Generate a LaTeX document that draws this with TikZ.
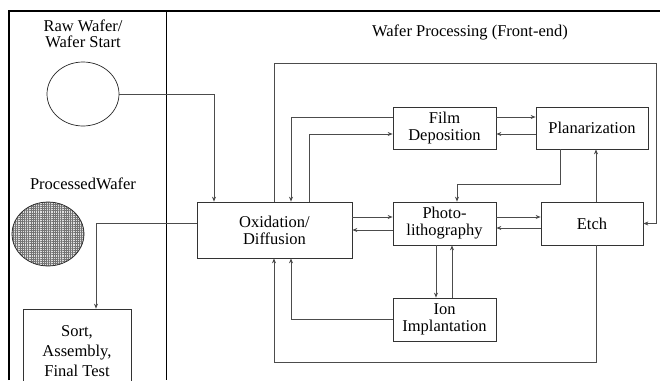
\documentclass[tikz,border=0pt]{standalone}
\usepackage{fontspec}
\setmainfont{Liberation Serif}
\usetikzlibrary{arrows.meta,patterns.meta,shapes.geometric}
\begin{document}
\begin{tikzpicture}[x=1pt,y=-1pt,
  box/.style={draw=black!80, line width=0.7pt, rectangle, inner sep=0pt, align=center, font=\fontsize{16.5}{17}\selectfont},
  conn/.style={draw=black!70, line width=0.8pt},
  arr/.style={conn, -{Stealth[length=5pt,width=4pt]}},
  lbl/.style={font=\fontsize{16.5}{16.5}\selectfont, align=center, inner sep=0pt}
]
\useasboundingbox (0,0) rectangle (660,380);
% frame
\draw[line width=2.8pt] (9,380) -- (9,11) -- (660,11);
\draw[line width=0.8pt] (166,11) -- (166,380);
% labels
\node[lbl] (tRaw) at (83,34) {Raw Wafer/\\Wafer Start};
\node[lbl] (tProc) at (83,184) {ProcessedWafer};
\node[lbl] (tFront) at (470,32) {Wafer Processing (Front-end)};
% wafers
\node[ellipse, draw=black!85, line width=0.7pt, minimum width=72pt, minimum height=64pt, inner sep=0pt] (raw) at (83,94) {};
\node[ellipse, draw=black!85, line width=0.7pt, minimum width=72pt, minimum height=64pt, inner sep=0pt,
  preaction={fill=gray!25}, pattern={Hatch[angle=0,distance=2.2pt,line width=0.35pt]}, pattern color=black!55] (proc) at (48,234) {};
% boxes
\node[box, minimum width=108pt, minimum height=84pt, font=\fontsize{16.5}{20}\selectfont] (sort) at (77,351) {Sort,\\Assembly,\\Final Test};
\node[box, minimum width=155pt, minimum height=56pt] (ox) at (274.5,230) {Oxidation/\\Diffusion};
\node[box, minimum width=103pt, minimum height=42pt] (film) at (444.5,128) {Film\\Deposition};
\node[box, minimum width=112pt, minimum height=42pt] (plan) at (592,128) {Planarization};
\node[box, minimum width=103pt, minimum height=43pt] (photo) at (444.5,223.5) {Photo-\\lithography};
\node[box, minimum width=102pt, minimum height=43pt] (etch) at (592,223.5) {Etch};
\node[box, minimum width=103pt, minimum height=43pt] (ion) at (444.5,319.5) {Ion\\Implantation};
% guide coordinates
\coordinate (x96) at (96,0);
\coordinate (x214) at (214,0);
\coordinate (x274) at (274,0);
\coordinate (x291) at (291,0);
\coordinate (x309) at (309,0);
\coordinate (x436) at (436,0);
\coordinate (x452) at (452,0);
\coordinate (x457) at (457,0);
\coordinate (x560) at (560,0);
\coordinate (x596) at (596,0);
\coordinate (x656) at (656,0);
\coordinate (y63) at (0,63);
\coordinate (y117) at (0,117);
\coordinate (y134) at (0,134);
\coordinate (y184) at (0,184);
\coordinate (y217) at (0,217);
\coordinate (y223) at (0,223);
\coordinate (y228) at (0,228);
\coordinate (y230) at (0,230);
\coordinate (y319) at (0,319);
\coordinate (y362) at (0,362);
% connectors
\draw[arr] (raw.east) -| (x214 |- ox.north);
\draw[arr] (ox.west |- y223) -| (x96 |- sort.north);
\draw[arr] (film.west |- y117) -| (x291 |- ox.north);
\draw[arr] (x309 |- ox.north) |- (film.west |- y134);
\draw[arr] (film.east |- y117) -- (plan.west |- y117);
\draw[arr] (plan.west |- y134) -- (film.east |- y134);
\draw[arr] (x560 |- plan.south) |- (x457 |- y184) -- (x457 |- photo.north);
\draw[arr] (x596 |- etch.north) -- (x596 |- plan.south);
\draw[arr] (ox.east |- y217) -- (photo.west |- y217);
\draw[arr] (photo.west |- y230) -- (ox.east |- y230);
\draw[arr] (photo.east |- y217) -- (etch.west |- y217);
\draw[arr] (etch.west |- y228) -- (photo.east |- y228);
\draw[arr] (x436 |- photo.south) -- (x436 |- ion.north);
\draw[arr] (x452 |- ion.north) -- (x452 |- photo.south);
\draw[arr] (ion.west |- y319) -| (x291 |- ox.south);
\draw[arr] (x596 |- etch.south) |- (x274 |- y362) -- (x274 |- ox.south);
\draw[arr] (x274 |- ox.north) |- (x656 |- y63) |- (etch.east);
\end{tikzpicture}
\end{document}
